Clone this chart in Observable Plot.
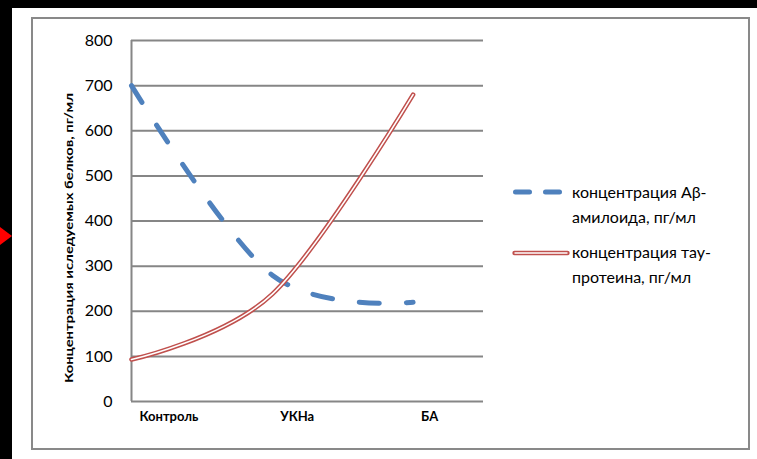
<!DOCTYPE html>
<html>
<head>
<meta charset="utf-8">
<script src="https://cdn.jsdelivr.net/npm/d3@7"></script>
<script src="https://cdn.jsdelivr.net/npm/@observablehq/plot@0.6"></script>
<style>
  html, body { margin: 0; padding: 0; background: #000; width: 757px; height: 459px; overflow: hidden; font-family: Lato, "Open Sans", sans-serif; }
  #sheet { position: absolute; left: 12px; top: 8px; width: 745px; height: 451px; background: #fff; }
  #frame { position: absolute; left: 31px; top: 17px; width: 715px; height: 429px; border: 2px solid #898989; }
  #marker { position: absolute; left: 0; top: 227px; width: 0; height: 0; border-left: 12px solid #ff0000; border-top: 9px solid transparent; border-bottom: 9px solid transparent; }
  #chart { position: absolute; left: 32px; top: 18px; }
  #chart svg { overflow: visible; }
  .legend-item { position: absolute; left: 513px; }
  .legend-item svg { position: absolute; left: 0; overflow: visible; }
  .legend-text { position: absolute; left: 59px; font-size: 16px; line-height: 25px; color: #000; white-space: nowrap; }
</style>
</head>
<body>
<div id="sheet"></div>
<div id="frame"></div>
<div id="marker"></div>
<div id="chart"></div>
<div id="legend"></div>
<script>
// Groups along the x axis
const categories = ["Контроль", "УКНа", "БА"];
// Concentration of Aβ-amyloid, pg/ml
const abetaValues = [700, 280, 220];
// Concentration of tau protein, pg/ml
const tauValues = [93, 238, 680];
// Y axis ticks
const yTicks = [0, 100, 200, 300, 400, 500, 600, 700, 800];

const seriesNames = ["концентрация Аβ-амилоида, пг/мл", "концентрация тау-протеина, пг/мл"];
const yTitle = "Концентрация иследуемых белков, пг/мл";

const blue = "#4f81bd";
const red = "#c0504d";
const grid = "#868686";

const abeta = categories.map((c, i) => ({i, c, v: abetaValues[i]}));
const tau = categories.map((c, i) => ({i, c, v: tauValues[i]}));

const chart = Plot.plot({
  width: 717,
  height: 432,
  marginLeft: 99,
  marginRight: 266,
  marginTop: 22,
  marginBottom: 49,
  style: {fontFamily: "Lato, 'Open Sans', sans-serif", background: "transparent", color: "#000"},
  x: {type: "linear", domain: [0, 2.5]},
  y: {domain: [0, 800]},
  marks: [
    Plot.gridY(yTicks, {stroke: grid, strokeOpacity: 1, strokeWidth: 2}),
    Plot.ruleX([0], {stroke: grid, strokeWidth: 2}),
    Plot.axisY(yTicks, {tickSize: 0, tickPadding: 19, fontSize: 16, label: null, fill: "#000"}),
    Plot.axisX([0, 1, 2], {
      tickSize: 0, tickPadding: 10, tickFormat: (i) => categories[i],
      textAnchor: "start", dx: 8, fontSize: 13, fontWeight: "bold", label: null, fill: "#000"
    }),
    Plot.text([yTitle], {
      frameAnchor: "left", textAnchor: "middle", rotate: -90, dx: -62, dy: 17,
      fontSize: 12, fontWeight: "bold", fill: "#000", className: "ytitle"
    }),
    Plot.line(abeta, {
      x: "i", y: "v", stroke: blue, strokeWidth: 5,
      strokeDasharray: "20,27", strokeLinecap: "round", curve: "cardinal"
    }),
    Plot.line(tau, {x: "i", y: "v", stroke: red, strokeWidth: 4.6, strokeLinecap: "round", curve: "cardinal"}),
    Plot.line(tau, {x: "i", y: "v", stroke: "#fff", strokeWidth: 1.6, strokeLinecap: "round", curve: "cardinal"})
  ]
});
// Fit the rotated axis title to the height it spans beside the axis
d3.select(chart).selectAll(".ytitle text")
  .attr("textLength", 290)
  .attr("lengthAdjust", "spacingAndGlyphs");
document.getElementById("chart").appendChild(chart);

// Legend: sample lines plus two-line labels
const legend = document.getElementById("legend");
const splitName = (s) => {
  const k = s.indexOf("-") + 1;
  return [s.slice(0, k), s.slice(k)];
};
const items = [
  {top: 179, lineY: 13, svg: `<line x1="2.5" x2="46.5" y1="0" y2="0" stroke="${blue}" stroke-width="5" stroke-linecap="round" stroke-dasharray="14,16"/>`, name: seriesNames[0]},
  {top: 239, lineY: 14, svg: `<line x1="1.5" x2="54.5" y1="0" y2="0" stroke="${red}" stroke-width="4.4" stroke-linecap="round"/><line x1="1.5" x2="54.5" y1="0" y2="0" stroke="#fff" stroke-width="1.5"/>`, name: seriesNames[1]}
];
for (const it of items) {
  const div = document.createElement("div");
  div.className = "legend-item";
  div.style.top = it.top + "px";
  const [a, b] = splitName(it.name);
  div.innerHTML = `<svg width="58" height="1" style="top:${it.lineY}px">${it.svg}</svg>` +
    `<div class="legend-text">${a}<br>${b.trim()}</div>`;
  legend.appendChild(div);
}
</script>
</body>
</html>
